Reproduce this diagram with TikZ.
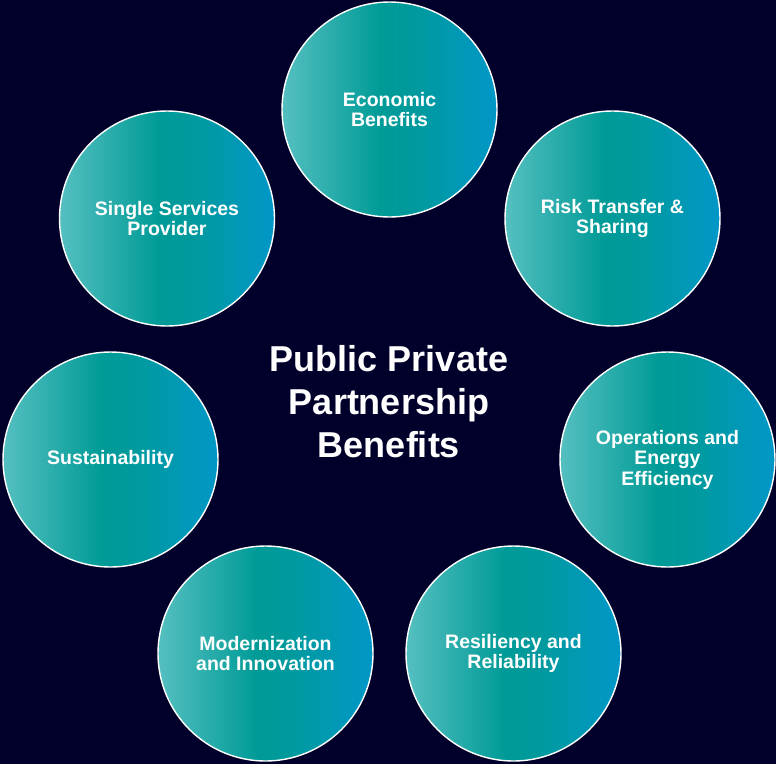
\documentclass[tikz,border=0pt]{standalone}
\usepackage{fontspec}
\setmainfont{Liberation Sans}
\definecolor{bgnavy}{HTML}{00002A}
\definecolor{cA}{HTML}{55BFC0}
\definecolor{cB}{HTML}{009B97}
\definecolor{cC}{HTML}{009A9E}
\definecolor{cD}{HTML}{0097C8}
\pgfdeclarehorizontalshading{pppshade}{100bp}{color(0bp)=(cA); color(25bp)=(cA); color(48bp)=(cB); color(56bp)=(cC); color(75bp)=(cD); color(100bp)=(cD)}
\tikzset{
  benefit/.style={circle, minimum size=215pt, inner sep=0pt, shading=pppshade,
    draw=white, line width=1.4pt, text=white, align=center,
    font=\bfseries\fontsize{19.5}{20.5}\selectfont},
  titletext/.style={text=white, align=center, font=\bfseries\fontsize{36}{43}\selectfont}
}
\begin{document}
\begin{tikzpicture}[x=1pt,y=-1pt]
\fill[bgnavy] (0,0) rectangle (776,764);
\useasboundingbox (0,0) rectangle (776,764);
\node[benefit] (econ) at (389.5,109.5) {Economic\\Benefits};
\node[benefit] (risk) at (612.5,218.5) {Risk Transfer \&\\Sharing};
\node[benefit] (ops) at (667.5,459.5) {Operations and\\Energy\\Efficiency};
\node[benefit] (res) at (513.5,653.5) {Resiliency and\\Reliability};
\node[benefit] (mod) at (265.5,653.5) {Modernization\\and Innovation};
\node[benefit] (sus) at (110.5,459.5) {Sustainability};
\node[benefit] (single) at (167,218.5) {Single Services\\Provider};
\node[titletext] (title) at (389,402) {Public Private\\Partnership\\Benefits};
\end{tikzpicture}
\end{document}
